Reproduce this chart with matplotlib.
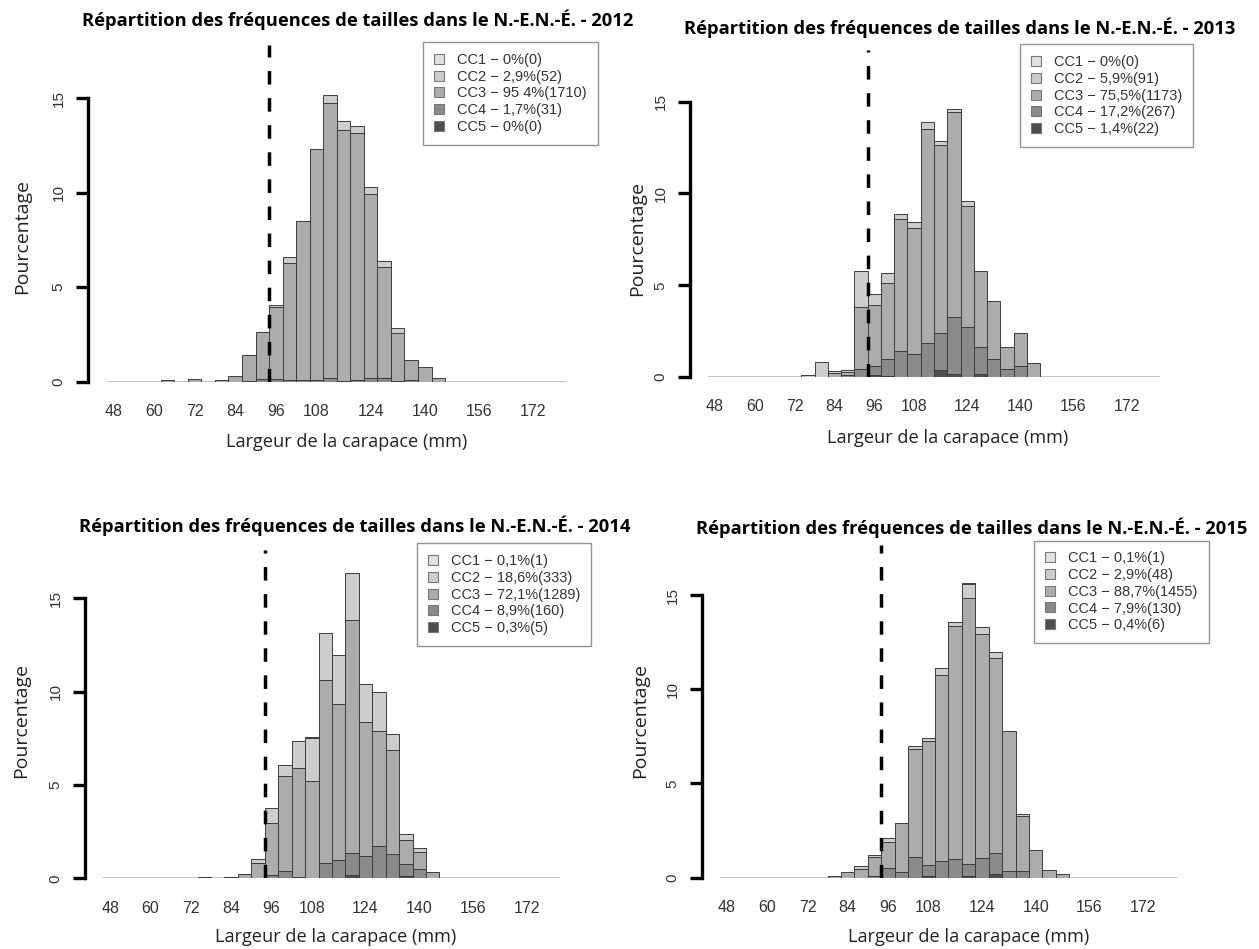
import numpy as np
import matplotlib.pyplot as plt
from matplotlib.patches import Patch

W, H = 1259, 949

# size classes (bin centres, mm)
bins = [64, 68, 72, 76, 80, 84, 88, 92, 96, 100, 104, 108,
        112, 116, 120, 124, 128, 132, 136, 140, 144, 148]
xtick_vals = [48, 60, 72, 84, 96, 108, 124, 140, 156, 172]
classes = ['CC1', 'CC2', 'CC3', 'CC4', 'CC5']
shades = ['#e2e2e2', '#cdcdcd', '#acacac', '#8a8a8a', '#4e4e4e']
legal_line = 94

# percentages by carapace condition, 2012
cc1_2012 = [0, 0, 0, 0, 0, 0, 0, 0, 0, 0, 0, 0, 0, 0, 0, 0, 0, 0, 0, 0, 0, 0]
cc2_2012 = [0, 0, 0, 0, 0, 0, 0, 0, 0.13, 0.28, 0, 0, 0.44, 0.45, 0.41, 0.34, 0.30, 0.26, 0, 0, 0, 0]
cc3_2012 = [0.09, 0, 0.14, 0, 0.07, 0.30, 1.36, 2.46, 3.78, 6.20, 8.42, 12.22, 14.56, 13.30, 13.04, 9.76, 5.88, 2.51, 1.05, 0.76, 0.21, 0]
cc4_2012 = [0, 0, 0, 0, 0, 0, 0.05, 0.15, 0.15, 0.10, 0.08, 0.08, 0.20, 0.05, 0.10, 0.20, 0.20, 0.05, 0.10, 0, 0, 0]
cc5_2012 = [0, 0, 0, 0, 0, 0, 0, 0, 0, 0, 0, 0, 0, 0, 0, 0, 0, 0, 0, 0, 0, 0]

# 2013
cc1_2013 = [0, 0, 0, 0, 0, 0, 0, 0, 0, 0, 0, 0, 0, 0, 0, 0, 0, 0, 0, 0, 0, 0]
cc2_2013 = [0, 0, 0, 0.09, 0.82, 0.11, 0.11, 1.94, 0.60, 0.54, 0.27, 0.31, 0.37, 0.24, 0.19, 0.24, 0, 0, 0, 0, 0, 0]
cc3_2013 = [0, 0, 0, 0, 0, 0.20, 0.15, 3.41, 3.32, 4.15, 7.20, 6.84, 11.65, 10.23, 11.16, 6.64, 4.12, 3.15, 1.22, 1.79, 0.78, 0]
cc4_2013 = [0, 0, 0, 0, 0, 0, 0.10, 0.42, 0.50, 0.89, 1.42, 1.28, 1.88, 2.01, 3.13, 2.70, 1.49, 0.97, 0.42, 0.60, 0, 0]
cc5_2013 = [0, 0, 0, 0, 0, 0, 0, 0, 0.10, 0.08, 0, 0, 0, 0.38, 0.15, 0, 0.15, 0, 0, 0, 0, 0]

# 2014
cc1_2014 = [0, 0, 0, 0, 0, 0, 0, 0, 0, 0, 0, 0.06, 0, 0, 0, 0, 0, 0, 0, 0, 0, 0]
cc2_2014 = [0, 0, 0, 0, 0, 0, 0, 0.18, 0.81, 0.57, 1.47, 2.28, 2.50, 2.64, 2.50, 2.02, 2.07, 0.83, 0.31, 0.18, 0, 0]
cc3_2014 = [0, 0, 0, 0.07, 0, 0.07, 0.23, 0.84, 2.80, 5.09, 5.84, 5.21, 9.83, 8.34, 12.50, 7.19, 6.14, 5.59, 1.28, 0.95, 0.36, 0]
cc4_2014 = [0, 0, 0, 0, 0, 0, 0, 0, 0.18, 0.41, 0.05, 0, 0.80, 0.98, 1.16, 1.20, 1.75, 1.29, 0.67, 0.48, 0, 0]
cc5_2014 = [0, 0, 0, 0, 0, 0, 0, 0, 0, 0, 0, 0, 0, 0, 0.18, 0, 0, 0, 0.10, 0, 0, 0]

# 2015
cc1_2015 = [0, 0, 0, 0, 0, 0, 0, 0, 0, 0, 0, 0, 0, 0, 0.06, 0, 0, 0, 0, 0, 0, 0]
cc2_2015 = [0, 0, 0, 0, 0, 0, 0.16, 0.12, 0.18, 0, 0.14, 0.14, 0.36, 0.18, 0.74, 0.36, 0.33, 0, 0.10, 0, 0, 0]
cc3_2015 = [0, 0, 0, 0, 0.09, 0.30, 0.44, 1.00, 1.42, 2.58, 5.72, 6.60, 9.88, 12.42, 14.11, 11.89, 10.38, 7.41, 2.93, 1.46, 0.39, 0.18]
cc4_2015 = [0, 0, 0, 0, 0, 0, 0, 0.10, 0.48, 0.30, 1.10, 0.56, 0.89, 0.96, 0.64, 1.06, 1.08, 0.35, 0.35, 0, 0, 0]
cc5_2015 = [0, 0, 0, 0, 0, 0, 0, 0, 0, 0, 0, 0.10, 0, 0, 0.10, 0, 0.20, 0, 0, 0, 0, 0]

labels_2012 = ['CC1 − 0%(0)', 'CC2 − 2,9%(52)', 'CC3 − 95 4%(1710)', 'CC4 − 1,7%(31)', 'CC5 − 0%(0)']
labels_2013 = ['CC1 − 0%(0)', 'CC2 − 5,9%(91)', 'CC3 − 75,5%(1173)', 'CC4 − 17,2%(267)', 'CC5 − 1,4%(22)']
labels_2014 = ['CC1 − 0,1%(1)', 'CC2 − 18,6%(333)', 'CC3 − 72,1%(1289)', 'CC4 − 8,9%(160)', 'CC5 − 0,3%(5)']
labels_2015 = ['CC1 − 0,1%(1)', 'CC2 − 2,9%(48)', 'CC3 − 88,7%(1455)', 'CC4 − 7,9%(130)', 'CC5 − 0,4%(6)']

years = [2012, 2013, 2014, 2015]
data = {
    2012: [cc1_2012, cc2_2012, cc3_2012, cc4_2012, cc5_2012],
    2013: [cc1_2013, cc2_2013, cc3_2013, cc4_2013, cc5_2013],
    2014: [cc1_2014, cc2_2014, cc3_2014, cc4_2014, cc5_2014],
    2015: [cc1_2015, cc2_2015, cc3_2015, cc4_2015, cc5_2015],
}
legend_labels = {2012: labels_2012, 2013: labels_2013, 2014: labels_2014, 2015: labels_2015}

# panel layout in pixels: y-axis x, zero line y, px per mm, px per %, top (%),
# title centre, legend top-left, y-label centre, x-label centre
layout = {
    2012: dict(ax_x=88, y0=381.7, ppm=3.385, ppp=18.89, top=17.8, title=(358, 20),
               leg=(423, 42), ylab=(21.7, 237), xlab=(346.7, 441.7)),
    2013: dict(ax_x=690, y0=377.0, ppm=3.32, ppp=18.35, top=17.8, title=(960, 28),
               leg=(1020, 44.3), ylab=(636.7, 239), xlab=(947.5, 438.3)),
    2014: dict(ax_x=85, y0=878.3, ppm=3.36, ppp=18.67, top=17.6, title=(355, 526),
               leg=(416.7, 543.3), ylab=(21, 720), xlab=(335.8, 936.7)),
    2015: dict(ax_x=701.7, y0=877.5, ppm=3.357, ppp=18.83, top=17.66, title=(972, 528),
               leg=(1034.3, 540.5), ylab=(640, 720), xlab=(969, 936.7)),
}
x_left, x_right = 40.5, 185.0

fig = plt.figure(figsize=(W / 100, H / 100), dpi=100)
fig.patch.set_facecolor('white')

for year in years:
    L = layout[year]
    width_px = (x_right - x_left) * L['ppm']
    height_px = L['top'] * L['ppp']
    ax = fig.add_axes([L['ax_x'] / W, 1 - L['y0'] / H, width_px / W, height_px / H])
    ax.set_xlim(x_left, x_right)
    ax.set_ylim(0, L['top'])

    # stacked bars, CC5 at the bottom up to CC1
    bottom = np.zeros(len(bins))
    for k in [4, 3, 2, 1, 0]:
        vals = np.array(data[year][k])
        mask = vals > 0
        ax.bar(np.array(bins)[mask], vals[mask], width=4, bottom=bottom[mask],
               color=shades[k], edgecolor='#3c3c3c', linewidth=0.7, zorder=2)
        bottom += vals

    ax.hlines(0, 46, 182, color='#bdbdbd', linewidth=1.3, zorder=1)
    ax.axvline(legal_line, color='black', linewidth=2.5, linestyle=(0, (3.9, 3.9)), zorder=3)

    for s in ['top', 'right', 'bottom']:
        ax.spines[s].set_visible(False)
    ax.spines['left'].set_linewidth(2.4)
    ax.spines['left'].set_bounds(0, 15)

    ax.set_yticks([0, 5, 10, 15])
    ax.set_yticklabels(['0', '5', '10', '15'], rotation=90, va='center',
                       fontsize=11, family='Liberation Sans', color='#333333')
    ax.tick_params(axis='y', length=8.6, width=2.4, pad=7.4)
    ax.set_xticks(xtick_vals)
    ax.set_xticklabels([str(v) for v in xtick_vals], fontsize=11.5,
                       family=['Liberation Sans Narrow', 'Liberation Sans'], color='#333333')
    ax.tick_params(axis='x', length=0, pad=16)

    handles = [Patch(facecolor=shades[k], edgecolor='#777777', linewidth=0.8) for k in range(5)]
    leg = ax.legend(handles, legend_labels[year], loc='upper left',
                    bbox_to_anchor=(L['leg'][0] / W, 1 - L['leg'][1] / H),
                    bbox_transform=fig.transFigure, fancybox=False,
                    prop={'family': 'Liberation Sans', 'size': 10.5},
                    handlelength=0.68, handleheight=0.68, handletextpad=0.9,
                    labelspacing=0.185, borderpad=0.75, borderaxespad=0)
    leg.get_frame().set_edgecolor('#777777')
    leg.get_frame().set_linewidth(1.0)
    for t in leg.get_texts():
        t.set_color('#333333')

    fig.text(L['title'][0] / W, 1 - L['title'][1] / H,
             'Répartition des fréquences de tailles dans le N.-E.N.-É. - %d' % year,
             ha='center', va='center', fontsize=13.2, fontweight='bold', family='Open Sans')
    fig.text(L['xlab'][0] / W, 1 - L['xlab'][1] / H, 'Largeur de la carapace (mm)',
             ha='center', va='center', fontsize=13.1, family='Open Sans', color='#222222')
    fig.text(L['ylab'][0] / W, 1 - L['ylab'][1] / H, 'Pourcentage', rotation=90,
             ha='center', va='center', fontsize=14, family='Open Sans', color='#222222')

fig.savefig('out.png', dpi=100, facecolor='white')
